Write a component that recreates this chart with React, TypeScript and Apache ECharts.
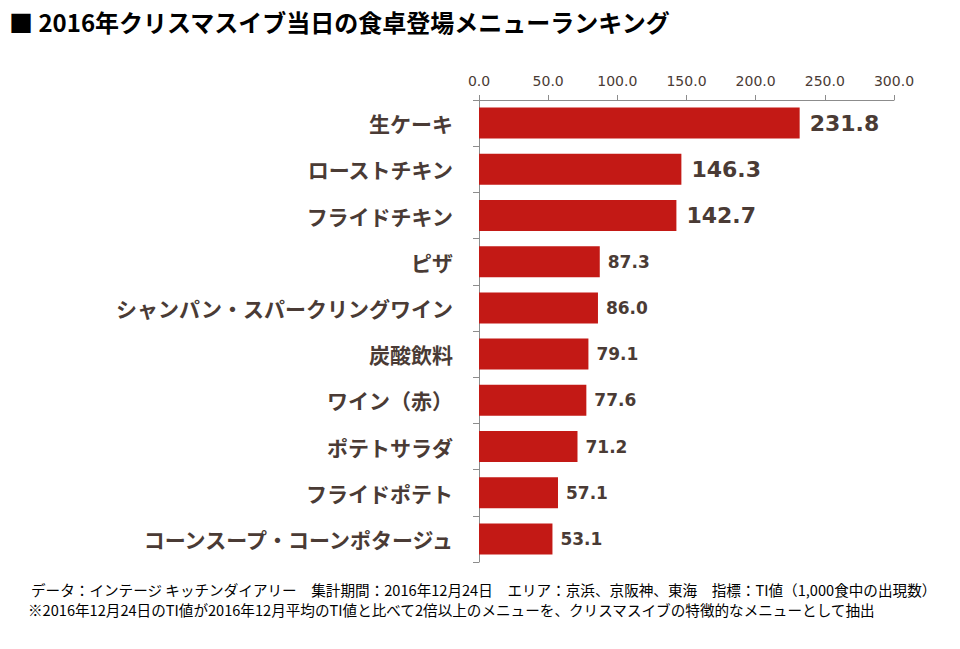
import React, { useEffect, useRef } from "react";
import * as echarts from "echarts";

const categories = [
  "生ケーキ",
  "ローストチキン",
  "フライドチキン",
  "ピザ",
  "シャンパン・スパークリングワイン",
  "炭酸飲料",
  "ワイン（赤）",
  "ポテトサラダ",
  "フライドポテト",
  "コーンスープ・コーンポタージュ",
];
const values = [231.8, 146.3, 142.7, 87.3, 86.0, 79.1, 77.6, 71.2, 57.1, 53.1];

const titleText = "■ 2016年クリスマスイブ当日の食卓登場メニューランキング";
const noteLines = [
  "データ：インテージ キッチンダイアリー　集計期間：2016年12月24日　エリア：京浜、京阪神、東海　指標：TI値（1,000食中の出現数）",
  "※2016年12月24日のTI値が2016年12月平均のTI値と比べて2倍以上のメニューを、クリスマスイブの特徴的なメニューとして抽出",
];

const TEXT = "#4a3b35";
const BAR = "#c31915";
const AXIS = "#8c8c8c";
const JP = "'Noto Sans CJK JP', 'Noto Sans', sans-serif";
const NUM = "'DejaVu Sans', Verdana, sans-serif";

export default function App() {
  const ref = useRef<HTMLDivElement>(null);

  useEffect(() => {
    if (!ref.current) return;
    const chart = echarts.init(ref.current, undefined, { renderer: "svg" });
    chart.setOption({
      animation: false,
      backgroundColor: "#ffffff",
      grid: { left: 479, top: 100, width: 415, height: 462, containLabel: false },
      xAxis: {
        type: "value",
        position: "top",
        min: 0,
        max: 300,
        interval: 50,
        axisLine: { show: true, lineStyle: { color: AXIS, width: 1 } },
        axisTick: { show: true, length: 5, lineStyle: { color: AXIS } },
        splitLine: { show: false },
        axisLabel: {
          formatter: (v: number) => v.toFixed(1),
          color: TEXT,
          fontFamily: NUM,
          fontSize: 14,
          margin: 12,
        },
      },
      yAxis: {
        type: "category",
        inverse: true,
        data: categories,
        axisLine: { show: true, lineStyle: { color: AXIS, width: 1 } },
        axisTick: { show: true, length: 6, lineStyle: { color: AXIS } },
        axisLabel: {
          color: TEXT,
          fontFamily: JP,
          fontWeight: "bold",
          fontSize: 21,
          margin: 26,
        },
      },
      series: [
        {
          type: "bar",
          data: values.map((v, i) => ({
            value: v,
            label: {
              fontSize: i < 3 ? 22 : 17,
              distance: i < 3 ? 10 : 8,
            },
          })),
          barCategoryGap: "33%",
          itemStyle: { color: BAR },
          label: {
            show: true,
            position: "right",
            color: TEXT,
            fontFamily: NUM,
            fontWeight: "bold",
            formatter: (p: any) => Number(p.value).toFixed(1),
          },
        },
      ],
      graphic: [
        {
          type: "text",
          left: 9,
          top: 9,
          style: {
            text: titleText,
            fill: "#000000",
            font: `bold 24px ${JP}`,
          },
        },
        {
          type: "text",
          left: 31,
          top: 582,
          style: { text: noteLines[0], fill: "#000000", font: `14.6px ${JP}` },
        },
        {
          type: "text",
          left: 28,
          top: 602,
          style: { text: noteLines[1], fill: "#000000", font: `14.6px ${JP}` },
        },
      ],
    });
    return () => chart.dispose();
  }, []);

  return (
    <div
      ref={ref}
      style={{ position: "fixed", left: 0, top: 0, width: 960, height: 649 }}
    />
  );
}
